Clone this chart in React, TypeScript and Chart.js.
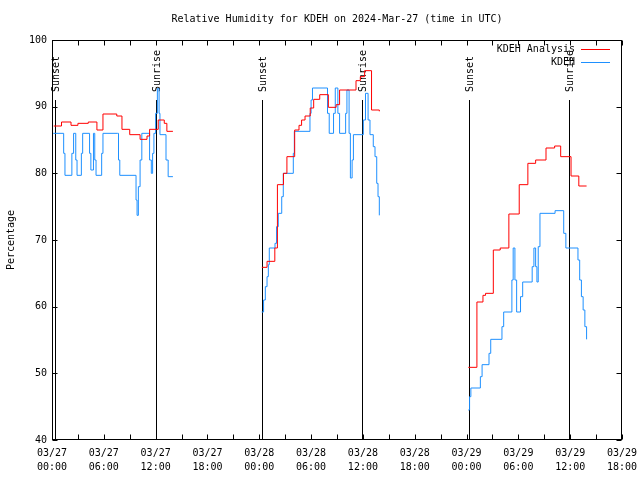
import React, { useEffect, useRef } from 'react';
import { Chart, registerables } from 'chart.js';

Chart.register(...registerables);

const TITLE = 'Relative Humidity for KDEH on 2024-Mar-27 (time in UTC)';
const Y_TITLE = 'Percentage';
const MONTH = '03';
const FIRST_DAY = 27;
// x values are hours since 03/27 00:00 UTC
const X_MIN = 0;
const X_MAX = 66;
const X_STEP = 3;
const X_LABEL_EVERY = 6;
const Y_MIN = 40;
const Y_MAX = 100;
const Y_STEP = 10;

const SERIES_NAMES = ['KDEH Analysis', 'KDEH'];
const SERIES_COLORS = ['#ff0000', '#1e90ff'];

// KDEH Analysis (value starts at the given hour); null = gap
const ANALYSIS_HOURS = [
  0.2, 1.1, 2.2, 3.0, 4.2, 5.2, 5.9, 7.5, 8.1, 9.0, 10.2, 11.0, 11.3, 12.3, 13.0, 13.3, 14.0,
  14.5,
  24.3, 24.9, 25.8, 26.1, 26.8, 27.2, 28.1, 28.6, 28.9, 29.3, 29.9, 30.3, 31.0, 32.0, 32.9, 33.3,
  35.2, 35.7, 36.2, 37.0, 37.9,
  38.5,
  48.2, 49.2, 49.9, 50.2, 51.1, 51.9, 52.9, 54.1, 55.1, 56.0, 57.2, 58.2, 58.9, 60.1, 61.0, 61.9,
];
const ANALYSIS_RH = [
  87.1, 87.7, 87.2, 87.5, 87.7, 86.5, 88.9, 88.6, 86.6, 85.8, 85.1, 85.6, 86.6, 88.0, 87.5, 86.3, 86.3,
  null,
  65.9, 66.8, 68.8, 78.3, 80.0, 82.5, 86.5, 87.2, 88.0, 88.6, 89.8, 91.1, 91.8, 89.9, 90.3, 92.5,
  93.9, 94.5, 95.4, 89.5, 89.3,
  null,
  50.9, 60.7, 61.7, 62.0, 68.5, 68.8, 73.9, 78.3, 81.5, 82.0, 83.8, 84.1, 82.5, 79.6, 78.1, 78.1,
];

// KDEH observations
const OBS_HOURS = [
  0.15, 1.35, 1.5, 2.3, 2.5, 2.75, 2.9, 3.4, 3.55, 4.35, 4.5, 4.8, 4.95, 5.1, 5.75, 5.9,
  7.56, 7.7, 7.85, 9.73, 9.85, 10.0, 10.2, 10.4, 11.3, 11.5, 11.65, 11.8, 12.0, 12.2, 12.4, 12.5,
  13.2, 13.45, 14.0,
  14.5,
  24.28, 24.5, 24.7, 24.9, 25.05, 25.16, 25.82, 26.0, 26.2, 26.6, 26.78, 27.94, 28.06, 29.87, 30.0,
  30.16, 31.9, 32.1, 32.6, 32.8, 33.1, 33.3, 34.0, 34.15, 34.4, 34.55, 34.75, 34.9, 36.05, 36.3,
  36.6, 36.82, 37.2, 37.4, 37.6, 37.75, 37.9,
  38.5,
  48.2, 48.35, 48.5, 49.6, 49.8, 50.6, 50.8, 52.1, 52.3, 53.25, 53.4, 53.6, 53.8, 54.25, 54.5,
  55.6, 55.8, 56.0, 56.15, 56.3, 56.5, 58.25, 59.25, 59.5, 60.9, 61.1, 61.3, 61.5, 61.7, 61.9,
];
const OBS_RH = [
  86.0, 83.0, 79.7, 83.0, 86.0, 82.0, 79.7, 83.0, 86.0, 83.0, 80.5, 86.0, 82.0, 79.7, 83.0, 86.0,
  86.0, 82.0, 79.7, 76.0, 73.7, 78.0, 82.0, 86.0, 82.0, 80.0, 83.0, 86.0, 89.0, 92.7, 89.0, 85.8,
  82.0, 79.5, 79.5,
  null,
  59.2, 61.0, 63.0, 64.5, 66.3, 68.8, 69.5, 72.0, 74.0, 76.5, 80.0, 83.0, 86.3, 89.0, 91.0,
  92.8, 89.0, 86.0, 89.0, 92.8, 89.0, 86.0, 89.0, 92.5, 86.0, 79.3, 82.0, 85.8, 88.0, 92.0,
  88.0, 85.8, 84.0, 82.5, 78.5, 76.5, 73.7,
  null,
  44.5, 46.5, 47.8, 49.5, 51.3, 53.0, 55.1, 57.0, 59.2, 64.0, 68.8, 64.0, 59.2, 61.5, 63.7,
  66.0, 68.8, 66.0, 63.7, 69.0, 74.0, 74.4, 71.0, 68.8, 67.0, 64.0, 61.5, 59.5, 57.0, 55.1,
];

const EVENT_HOURS = [0.38, 12.0, 24.32, 35.93, 48.32, 59.9];
const EVENT_LABELS = ['Sunset', 'Sunrise', 'Sunset', 'Sunrise', 'Sunset', 'Sunrise'];
const EVENT_LINE_TOP = 91;

const FONT_FAMILY = '"DejaVu Sans Mono", "Liberation Mono", monospace';
const FONT_SIZE = 10;

function pad2(n: number) {
  return n < 10 ? '0' + n : String(n);
}

function xLabel(v: number) {
  if (Math.round(v) % X_LABEL_EVERY !== 0) return '';
  const day = FIRST_DAY + Math.floor(v / 24);
  const hour = Math.round(v) % 24;
  return [`${MONTH}/${pad2(day)}`, `${pad2(hour)}:00`];
}

function toPoints(hours: number[], values: (number | null)[]) {
  return hours.map((h, i) => ({ x: h, y: values[i] }));
}

const decorPlugin = {
  id: 'decor',
  beforeDatasetsDraw(chart: any) {
    const { ctx, chartArea: a, scales } = chart;
    const x = scales.x;
    const y = scales.y;
    ctx.save();
    ctx.strokeStyle = '#000';
    ctx.lineWidth = 1;
    ctx.font = `${FONT_SIZE}px ${FONT_FAMILY}`;
    ctx.fillStyle = '#000';
    const topLine = Math.round(y.getPixelForValue(EVENT_LINE_TOP));
    EVENT_HOURS.forEach((h, i) => {
      const px = Math.round(x.getPixelForValue(h)) + 0.5;
      ctx.beginPath();
      ctx.moveTo(px, topLine);
      ctx.lineTo(px, a.bottom);
      ctx.stroke();
      ctx.save();
      ctx.translate(px + 1, topLine - 8);
      ctx.rotate(-Math.PI / 2);
      ctx.textAlign = 'left';
      ctx.textBaseline = 'middle';
      ctx.fillText(EVENT_LABELS[i], 0, 0);
      ctx.restore();
    });
    ctx.restore();
  },
  afterDraw(chart: any) {
    const { ctx, chartArea: a, scales } = chart;
    const x = scales.x;
    const y = scales.y;
    ctx.save();
    ctx.strokeStyle = '#000';
    ctx.lineWidth = 1;
    const L = Math.round(a.left) + 0.5;
    const R = Math.round(a.right) - 0.5;
    const T = Math.round(a.top) + 0.5;
    const B = Math.round(a.bottom) - 0.5;
    ctx.strokeRect(L, T, R - L, B - T);
    const tl = 5;
    ctx.beginPath();
    for (let v = Y_MIN; v <= Y_MAX; v += Y_STEP) {
      const py = Math.round(y.getPixelForValue(v)) + 0.5;
      ctx.moveTo(L, py);
      ctx.lineTo(L + tl, py);
      ctx.moveTo(R, py);
      ctx.lineTo(R - tl, py);
    }
    for (let v = X_MIN; v <= X_MAX; v += X_STEP) {
      const px = Math.round(x.getPixelForValue(v)) + 0.5;
      ctx.moveTo(px, B);
      ctx.lineTo(px, B - tl);
      ctx.moveTo(px, T);
      ctx.lineTo(px, T + tl);
    }
    ctx.stroke();

    ctx.fillStyle = '#000';
    ctx.font = `${FONT_SIZE}px ${FONT_FAMILY}`;
    ctx.textAlign = 'center';
    ctx.textBaseline = 'middle';
    ctx.fillText(TITLE, (a.left + a.right) / 2, 19);

    ctx.save();
    ctx.translate(11, (a.top + a.bottom) / 2);
    ctx.rotate(-Math.PI / 2);
    ctx.fillText(Y_TITLE, 0, 0);
    ctx.restore();

    // legend
    ctx.textAlign = 'right';
    SERIES_NAMES.forEach((name, i) => {
      const ly = Math.round(a.top + 9 + i * 13) + 0.5;
      ctx.fillStyle = '#000';
      ctx.fillText(name, a.right - 47, ly);
      ctx.strokeStyle = SERIES_COLORS[i];
      ctx.beginPath();
      ctx.moveTo(a.right - 41, ly);
      ctx.lineTo(a.right - 12, ly);
      ctx.stroke();
    });
    ctx.restore();
  },
};

export default function App() {
  const canvasRef = useRef<HTMLCanvasElement | null>(null);

  useEffect(() => {
    const canvas = canvasRef.current;
    if (!canvas) return;
    const font = { family: FONT_FAMILY, size: FONT_SIZE, lineHeight: 1.4 };
    const chart = new Chart(canvas, {
      type: 'line',
      data: {
        datasets: [
          {
            label: SERIES_NAMES[0],
            data: toPoints(ANALYSIS_HOURS, ANALYSIS_RH),
            borderColor: SERIES_COLORS[0],
            borderWidth: 1,
            pointRadius: 0,
            stepped: 'before',
            spanGaps: false,
            fill: false,
          },
          {
            label: SERIES_NAMES[1],
            data: toPoints(OBS_HOURS, OBS_RH),
            borderColor: SERIES_COLORS[1],
            borderWidth: 1,
            pointRadius: 0,
            stepped: 'before',
            spanGaps: false,
            fill: false,
          },
        ],
      } as any,
      options: {
        responsive: false,
        animation: false,
        events: [],
        layout: { padding: { left: 0, right: 18, top: 40, bottom: 0 } },
        plugins: {
          legend: { display: false },
          title: { display: false },
          tooltip: { enabled: false },
        },
        scales: {
          x: {
            type: 'linear',
            min: X_MIN,
            max: X_MAX,
            grid: { display: false, drawTicks: false },
            border: { display: false },
            ticks: {
              stepSize: X_STEP,
              autoSkip: false,
              maxRotation: 0,
              minRotation: 0,
              padding: 6,
              color: '#000',
              font,
              callback: (v: any) => xLabel(Number(v)),
            },
            afterFit: (s: any) => {
              s.height = 40;
              s.paddingLeft = 0;
              s.paddingRight = 0;
            },
          },
          y: {
            type: 'linear',
            min: Y_MIN,
            max: Y_MAX,
            grid: { display: false, drawTicks: false },
            border: { display: false },
            ticks: {
              stepSize: Y_STEP,
              padding: 5,
              color: '#000',
              font,
            },
            afterFit: (s: any) => {
              s.width = 52;
              s.paddingTop = 0;
              s.paddingBottom = 0;
            },
          },
        },
      } as any,
      plugins: [decorPlugin],
    });
    return () => chart.destroy();
  }, []);

  return (
    <div style={{ position: 'absolute', left: 0, top: 0, width: 640, height: 480, background: '#fff' }}>
      <canvas ref={canvasRef} width={640} height={480} style={{ display: 'block' }} />
    </div>
  );
}
